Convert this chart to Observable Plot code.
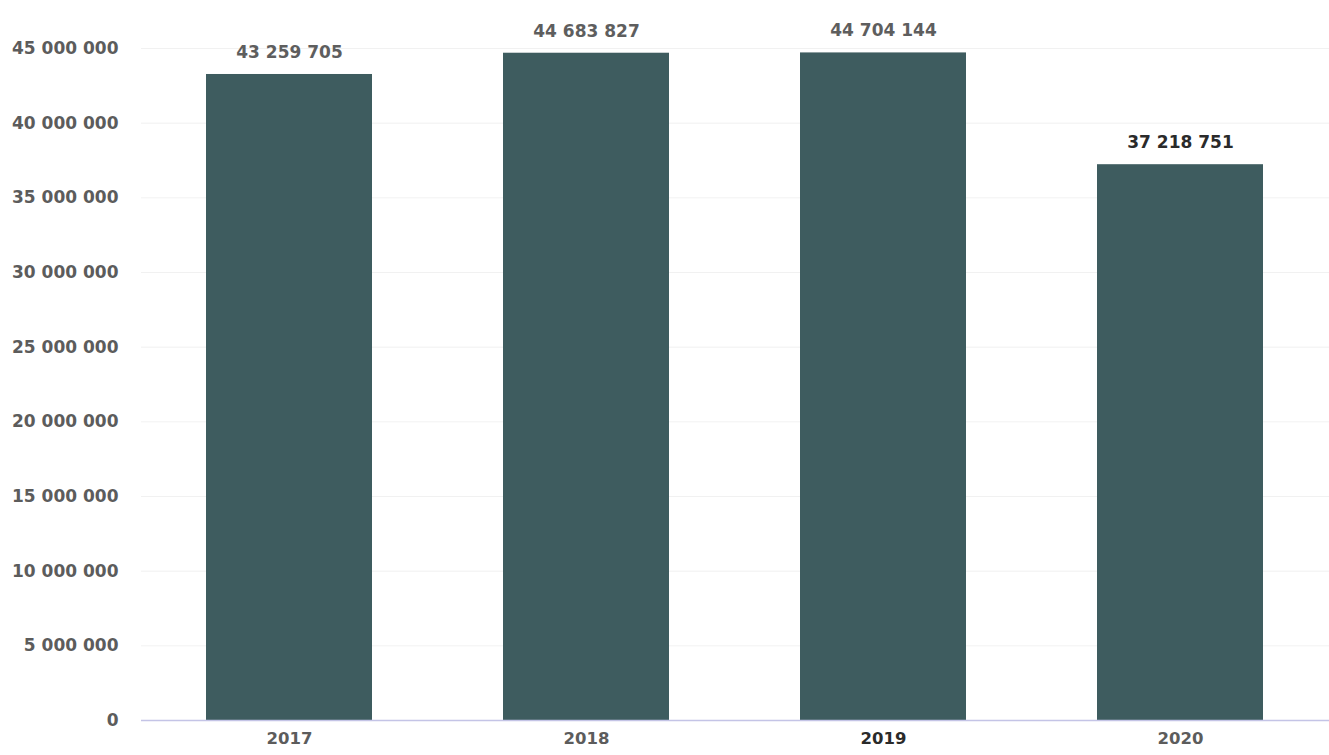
<!DOCTYPE html>
<html>
<head>
<meta charset="utf-8">
<script src="https://cdn.jsdelivr.net/npm/d3@7"></script>
<script src="https://cdn.jsdelivr.net/npm/@observablehq/plot@0.6"></script>
<style>
  html, body { margin: 0; padding: 0; background: #fff; }
  #chart svg { display: block; }
</style>
</head>
<body>
<div id="chart"></div>
<script>
const years = ["2017", "2018", "2019", "2020"];
const values = [43259705, 44683827, 44704144, 37218751];
const yTicks = [0, 5000000, 10000000, 15000000, 20000000, 25000000, 30000000, 35000000, 40000000, 45000000];

const data = years.map((year, i) => ({year, value: values[i]}));
const fmt = d => d3.format(",")(d).replace(/,/g, " ");

const chart = Plot.plot({
  width: 1329,
  height: 755,
  marginLeft: 141,
  marginRight: 0,
  marginTop: 48,
  marginBottom: 35,
  style: {fontFamily: "'DejaVu Sans', sans-serif", fontSize: "16px", fontWeight: "bold", background: "#fff"},
  x: {domain: years, paddingInner: 0.44, paddingOuter: 0.22, label: null},
  y: {domain: [0, 45000000], label: null},
  marks: [
    Plot.gridY(yTicks, {stroke: "#e8e8e8", strokeOpacity: 0.6}),
    Plot.barY(data, {x: "year", y: "value", fill: "#3e5c5f"}),
    Plot.ruleY([0], {stroke: "#c4c4e6", strokeWidth: 1.5}),
    Plot.text(data, {x: "year", y: "value", text: d => fmt(d.value), dy: -22,
      fill: d => d.year === "2020" ? "#2a2a2a" : "#5e5e5e", fontSize: 17, fontWeight: "bold"}),
    Plot.axisY(yTicks, {tickFormat: fmt, tickSize: 0, tickPadding: 23, fill: "#5c5c5c", fontSize: 17, fontWeight: "bold", label: null}),
    Plot.axisX({tickSize: 0, tickPadding: 12, fontSize: 16.5, fontWeight: "bold", label: null,
      fill: d => d === "2019" ? "#2a2a2a" : "#5c5c5c"})
  ]
});
document.getElementById("chart").appendChild(chart);
</script>
</body>
</html>
